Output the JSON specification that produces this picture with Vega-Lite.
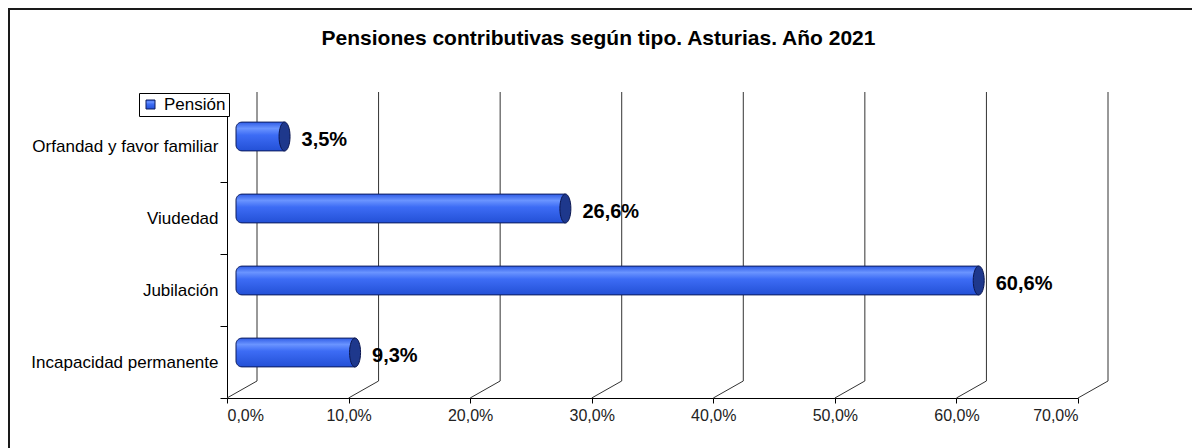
{
  "$schema": "https://vega.github.io/schema/vega-lite/v6.json",
  "autosize": "none",
  "width": 1187,
  "height": 443,
  "padding": {"left": 9, "top": 9, "right": -4, "bottom": -4},
  "background": "white",
  "config": {
    "locale": {"number": {"decimal": ",", "thousands": ".", "grouping": [3], "currency": ["", " €"]}},
    "view": {"stroke": "#1a1a1a", "strokeWidth": 2},
    "font": "Liberation Sans"
  },
  "title": {
    "text": "Pensiones contributivas según tipo. Asturias. Año 2021",
    "font": "Liberation Sans",
    "fontSize": 21,
    "fontWeight": "bold",
    "color": "#000000",
    "anchor": "middle",
    "offset": -60,
    "baseline": "middle",
    "dx": -4
  },
  "datasets": {
    "pensiones": [
      {"tipo": "Orfandad y favor familiar", "valor": 0.035},
      {"tipo": "Viudedad", "valor": 0.266},
      {"tipo": "Jubilación", "valor": 0.606},
      {"tipo": "Incapacidad permanente", "valor": 0.093}
    ],
    "grid": [
      {"v": 0}, {"v": 0.1}, {"v": 0.2}, {"v": 0.3}, {"v": 0.4}, {"v": 0.5}, {"v": 0.6}, {"v": 0.7}
    ]
  },
  "layer": [
    {
      "data": {"name": "grid"},
      "mark": {"type": "rule", "color": "#333333", "strokeWidth": 1, "xOffset": 30, "yOffset": -54, "y2Offset": 19},
      "encoding": {
        "x": {"field": "v", "type": "quantitative", "title": null},
        "y": {"datum": "Orfandad y favor familiar", "type": "nominal", "title": null},
        "y2": {"datum": "Incapacidad permanente"}
      }
    },
    {
      "data": {"name": "grid"},
      "mark": {"type": "rule", "color": "#333333", "strokeWidth": 1, "x2Offset": 30, "yOffset": 36, "y2Offset": 19},
      "encoding": {
        "x": {"field": "v", "type": "quantitative", "title": null},
        "x2": {"field": "v"},
        "y": {"datum": "Incapacidad permanente", "type": "nominal", "title": null},
        "y2": {"datum": "Incapacidad permanente"}
      }
    },
    {
      "data": {"name": "pensiones"},
      "mark": {
        "type": "bar",
        "height": {"band": 0.4},
        "xOffset": 15,
        "x2Offset": 9,
        "yOffset": -9.5,
        "cornerRadiusTopLeft": 6,
        "cornerRadiusBottomLeft": 6,
        "strokeWidth": 1,
        "fill": {
          "gradient": "linear",
          "x1": 0, "y1": 0, "x2": 0, "y2": 1,
          "stops": [
            {"offset": 0, "color": "#2f5ce6"},
            {"offset": 0.22, "color": "#6a94ff"},
            {"offset": 0.45, "color": "#3d6cf5"},
            {"offset": 1, "color": "#2350d6"}
          ]
        }
      },
      "encoding": {
        "y": {
          "field": "tipo",
          "type": "nominal",
          "title": null,
          "sort": ["Orfandad y favor familiar", "Viudedad", "Jubilación", "Incapacidad permanente"],
          "scale": {
            "domain": ["Orfandad y favor familiar", "Viudedad", "Jubilación", "Incapacidad permanente"],
            "range": [101, 389],
            "paddingInner": 0,
            "paddingOuter": 0
          },
          "axis": {
            "orient": "left",
            "offset": -218,
            "title": null,
            "tickBand": "extent",
            "domainColor": "#000000",
            "tickColor": "#000000",
            "tickSize": 7,
            "labelFont": "Liberation Sans",
            "labelFontSize": 17,
            "labelColor": "#000000",
            "labelPadding": 2,
            "labelLimit": 0,
            "grid": false
          }
        },
        "x": {
          "field": "valor",
          "type": "quantitative",
          "title": null,
          "scale": {"domain": [0, 0.7], "range": [218, 1069], "nice": false},
          "axis": {
            "orient": "bottom",
            "offset": -54,
            "title": null,
            "format": ".1%",
            "values": [0, 0.1, 0.2, 0.3, 0.4, 0.5, 0.6, 0.7],
            "grid": false,
            "domainColor": "#000000",
            "tickColor": "#000000",
            "tickSize": 5,
            "labelFont": "Liberation Sans",
            "labelFontSize": 16,
            "labelColor": "#222222",
            "labelPadding": 4
          }
        },
        "x2": {"datum": 0},
        "stroke": {
          "datum": "Pensión",
          "type": "nominal",
          "scale": {"range": ["#0d1d5e"]},
          "legend": {
            "orient": "none",
            "legendX": 130,
            "legendY": 84,
            "title": null,
            "strokeColor": "#000000",
            "fillColor": "#ffffff",
            "padding": 3,
            "symbolType": "square",
            "symbolSize": 81,
            "symbolStrokeWidth": 1,
            "labelFont": "Liberation Sans",
            "labelFontSize": 17,
            "labelColor": "#000000",
            "labelOffset": 5,
            "encode": {"symbols": {"update": {"fill": {"value": "#3366ff"}, "stroke": {"value": "#0d1d5e"}}}}
          }
        }
      }
    },
    {
      "data": {"name": "pensiones"},
      "mark": {
        "type": "point",
        "shape": "M0,-1 A0.38,1 0 1,1 0,1 A0.38,1 0 1,1 0,-1 Z",
        "size": 841,
        "filled": true,
        "fill": "#1e388c",
        "stroke": "#0a1650",
        "strokeWidth": 1,
        "opacity": 1,
        "xOffset": 15,
        "yOffset": -9.5
      },
      "encoding": {
        "x": {"field": "valor", "type": "quantitative", "title": null},
        "y": {"field": "tipo", "type": "nominal", "title": null}
      }
    },
    {
      "data": {"name": "pensiones"},
      "mark": {
        "type": "text",
        "align": "left",
        "baseline": "middle",
        "dx": 32,
        "yOffset": -6,
        "font": "Liberation Sans",
        "fontSize": 20,
        "fontWeight": "bold",
        "color": "#000000"
      },
      "encoding": {
        "x": {"field": "valor", "type": "quantitative", "title": null},
        "y": {"field": "tipo", "type": "nominal", "title": null},
        "text": {"field": "valor", "type": "quantitative", "format": ".1%"}
      }
    }
  ]
}
